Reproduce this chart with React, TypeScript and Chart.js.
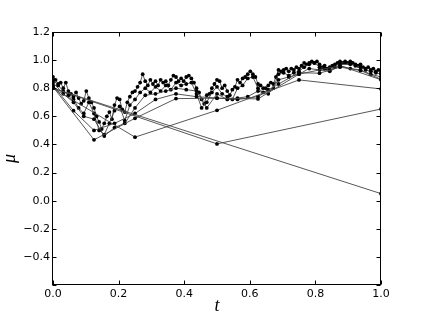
import { useEffect, useRef } from 'react';
import { Chart, registerables } from 'chart.js';

Chart.register(...registerables);

// Dyadic approximations of the path mu(t); level n has 2^n + 1 samples on [0, 1]
const L0 = [0.80, 0.05];
const L1 = [0.80, 0.404, 0.652];
const L2 = [0.80, 0.452, 0.643, 0.859, 0.795];
const L3 = [0.81, 0.433, 0.586, 0.726, 0.729, 0.724, 0.90, 0.96, 0.86];
const L4 = [0.82, 0.64, 0.50, 0.55, 0.62, 0.72, 0.76, 0.74, 0.73, 0.72, 0.74, 0.83, 0.91, 0.907, 0.95, 0.926, 0.864];
const L5 = [
  0.84, 0.76, 0.70, 0.60, 0.58, 0.46, 0.52, 0.55,
  0.66, 0.75, 0.76, 0.78, 0.80, 0.79, 0.78, 0.66,
  0.76, 0.72, 0.73, 0.74, 0.78, 0.76, 0.86, 0.88,
  0.90, 0.94, 0.93, 0.92, 0.96, 0.94, 0.93, 0.90,
  0.88,
];
const L6 = [
  0.86, 0.82, 0.78, 0.75, 0.72, 0.66, 0.62, 0.70,
  0.62, 0.50, 0.47, 0.55, 0.64, 0.67, 0.57, 0.68,
  0.72, 0.77, 0.80, 0.77, 0.81, 0.78, 0.82, 0.79,
  0.84, 0.82, 0.83, 0.84, 0.76, 0.66, 0.70, 0.77,
  0.81, 0.76, 0.74, 0.72, 0.80, 0.82, 0.87, 0.88,
  0.80, 0.77, 0.79, 0.80, 0.90, 0.91, 0.89, 0.91,
  0.92, 0.95, 0.97, 0.98, 0.95, 0.94, 0.93, 0.95,
  0.98, 0.98, 0.97, 0.96, 0.95, 0.93, 0.92, 0.91,
  0.90,
];
const L7 = [
  0.88, 0.86, 0.83, 0.84, 0.80, 0.84, 0.78, 0.76,
  0.74, 0.77, 0.73, 0.69, 0.71, 0.78, 0.73, 0.70,
  0.66, 0.60, 0.56, 0.51, 0.55, 0.60, 0.63, 0.58,
  0.68, 0.73, 0.72, 0.65, 0.63, 0.70, 0.74, 0.77,
  0.78, 0.81, 0.84, 0.90, 0.85, 0.82, 0.86, 0.83,
  0.85, 0.82, 0.86, 0.84, 0.85, 0.82, 0.86, 0.89,
  0.88, 0.85, 0.87, 0.85, 0.88, 0.89, 0.87, 0.84,
  0.80, 0.77, 0.72, 0.69, 0.75, 0.76, 0.80, 0.83,
  0.86, 0.85, 0.80, 0.82, 0.78, 0.75, 0.79, 0.81,
  0.86, 0.84, 0.87, 0.88, 0.90, 0.92, 0.90, 0.88,
  0.83, 0.82, 0.80, 0.80, 0.82, 0.84, 0.83, 0.88,
  0.93, 0.92, 0.93, 0.94, 0.92, 0.94, 0.93, 0.95,
  0.94, 0.96, 0.98, 0.97, 0.98, 0.99, 0.98, 0.99,
  0.97, 0.95, 0.96, 0.94, 0.95, 0.96, 0.97, 0.98,
  0.99, 0.98, 0.99, 0.98, 0.99, 0.98, 0.97, 0.96,
  0.97, 0.95, 0.94, 0.95, 0.93, 0.94, 0.92, 0.93,
  0.91,
];

const LEVELS = [L0, L1, L2, L3, L4, L5, L6, L7];

const X_TICKS = [0, 0.2, 0.4, 0.6, 0.8, 1.0];
const Y_TICKS = [-0.6, -0.4, -0.2, 0, 0.2, 0.4, 0.6, 0.8, 1.0, 1.2];

const fmt = (v: number) => {
  const s = Math.abs(v).toFixed(1);
  return v < -1e-9 ? '\u2212' + s : s;
};

const framePlugin = {
  id: 'mplFrame',
  afterDatasetsDraw(chart: any) {
    const { ctx, chartArea: a, scales } = chart;
    const L = Math.round(a.left) - 0.5;
    const R = Math.round(a.right) - 0.5;
    const T = Math.round(a.top) + 0.5;
    const B = Math.round(a.bottom) - 0.5;
    ctx.save();
    ctx.strokeStyle = '#000';
    ctx.lineWidth = 1;
    ctx.strokeRect(L, T, R - L, B - T);
    const tl = 4;
    ctx.beginPath();
    for (const v of X_TICKS) {
      const x = Math.round(scales.x.getPixelForValue(v)) + 0.5;
      ctx.moveTo(x, B); ctx.lineTo(x, B - tl);
      ctx.moveTo(x, T); ctx.lineTo(x, T + tl);
    }
    for (const v of Y_TICKS) {
      const y = Math.round(scales.y.getPixelForValue(v)) + 0.5;
      ctx.moveTo(L, y); ctx.lineTo(L + tl, y);
      ctx.moveTo(R, y); ctx.lineTo(R - tl, y);
    }
    ctx.stroke();
    ctx.restore();
  },
};

export default function App() {
  const ref = useRef<HTMLCanvasElement | null>(null);

  useEffect(() => {
    if (!ref.current) return;
    const datasets = LEVELS.map((vals) => ({
      data: vals.map((y, i) => ({ x: i / (vals.length - 1), y })),
      showLine: true,
      borderColor: '#444',
      borderWidth: 0.9,
      pointRadius: 1.9,
      pointBackgroundColor: '#000',
      pointBorderWidth: 0,
      pointBorderColor: '#000',
      fill: false,
    }));
    const tickFont = { family: '"DejaVu Sans", sans-serif', size: 11 };
    const chart = new Chart(ref.current, {
      type: 'scatter',
      data: { datasets },
      options: {
        animation: false,
        responsive: false,
        events: [],
        layout: { padding: { left: 0, right: 42, top: 32, bottom: 0 } },
        plugins: { legend: { display: false }, tooltip: { enabled: false } },
        scales: {
          x: {
            type: 'linear',
            min: 0,
            max: 1,
            grid: { display: false, drawTicks: false },
            border: { display: false },
            afterBuildTicks: (s: any) => { s.ticks = X_TICKS.map((value) => ({ value })); },
            afterFit: (s: any) => { s.height = 32; },
            ticks: {
              autoSkip: false,
              maxRotation: 0,
              padding: 3,
              color: '#000',
              font: tickFont,
              callback: (v: any) => fmt(Number(v)),
            },
            title: {
              display: true,
              text: 't',
              color: '#000',
              padding: { top: 0, bottom: 0 },
              font: { family: '"Liberation Serif", serif', size: 18, style: 'italic', lineHeight: 1.15 },
            },
          },
          y: {
            type: 'linear',
            min: -0.6,
            max: 1.2,
            grid: { display: false, drawTicks: false },
            border: { display: false },
            afterBuildTicks: (s: any) => { s.ticks = Y_TICKS.map((value) => ({ value })); },
            afterFit: (s: any) => { s.width = 53; },
            ticks: {
              autoSkip: false,
              padding: 3,
              color: '#000',
              font: tickFont,
              callback: (v: any) => (Number(v) < -0.55 ? '' : fmt(Number(v))),
            },
            title: {
              display: true,
              text: 'μ',
              color: '#000',
              padding: { top: 0, bottom: 0 },
              font: { family: '"Liberation Serif", serif', size: 18, style: 'italic', lineHeight: 1.1 },
            },
          },
        },
      },
      plugins: [framePlugin],
    });
    return () => chart.destroy();
  }, []);

  return (
    <div style={{ position: 'fixed', left: 0, top: 0, width: 423, height: 317, background: '#fff' }}>
      <canvas ref={ref} width={423} height={317} />
    </div>
  );
}
